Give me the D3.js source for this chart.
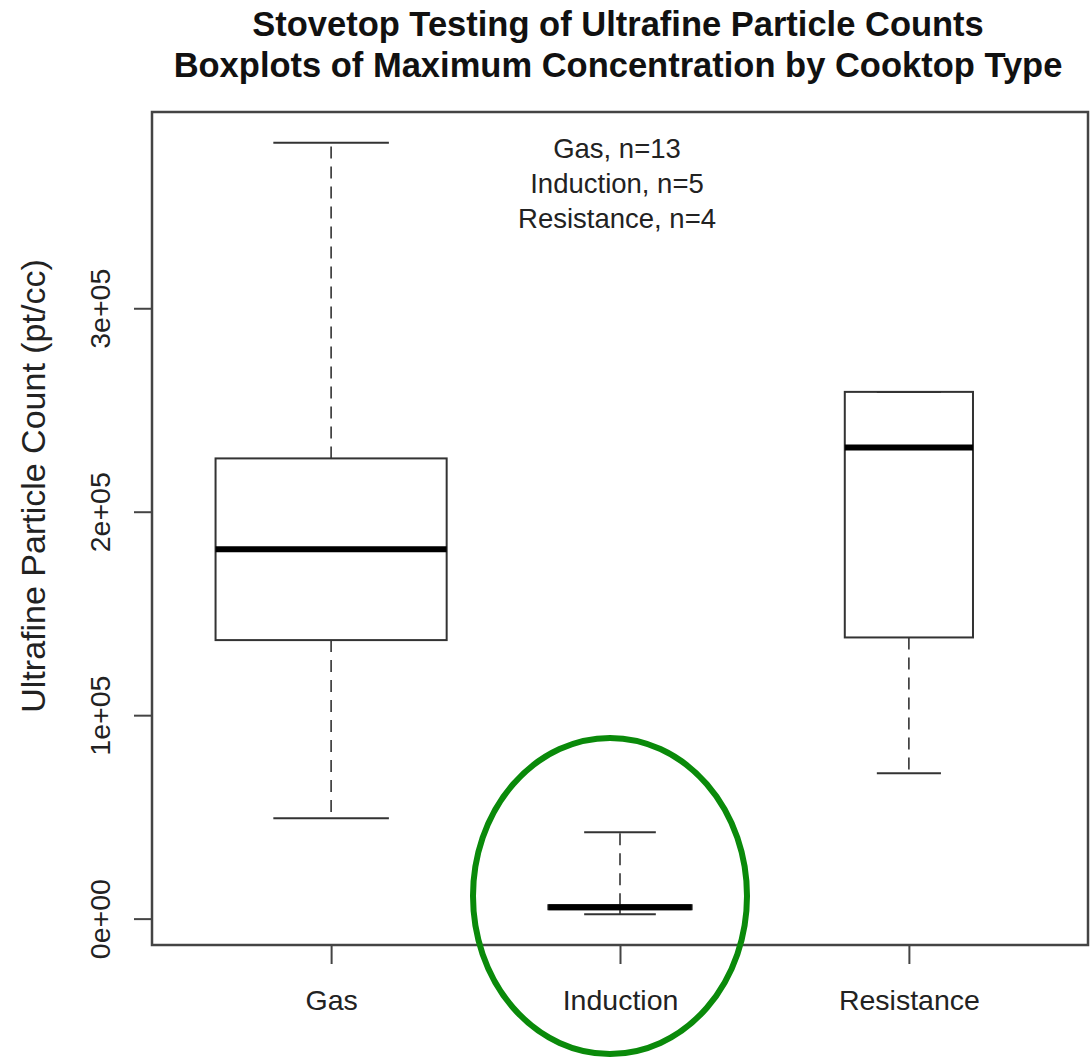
<!DOCTYPE html>
<html>
<head>
<meta charset="utf-8">
<script src="https://cdn.jsdelivr.net/npm/d3@7"></script>
<style>
  html, body { margin: 0; padding: 0; background: #fff; }
  svg { display: block; font-family: "Liberation Sans", Arial, Helvetica, sans-serif; }
</style>
</head>
<body>
<svg id="chart" width="1090" height="1057"></svg>
<script>
// ---- data ----
const categories = ["Gas", "Induction", "Resistance"];
const counts = [13, 5, 4];
const whiskerLow = [49300, 2200, 71400];
const q1 = [136900, 4600, 138200];
const medians = [181500, 5550, 231600];
const q3 = [226200, 6600, 258900];
const whiskerHigh = [381300, 42400, 258900];
const yTicks = [0, 100000, 200000, 300000];
const yTickLabels = ["0e+00", "1e+05", "2e+05", "3e+05"];
const titleLines = ["Stovetop Testing of Ultrafine Particle Counts",
                    "Boxplots of Maximum Concentration by Cooktop Type"];
const legendLines = ["Gas, n=13", "Induction, n=5", "Resistance, n=4"];
const yAxisTitle = "Ultrafine Particle Count (pt/cc)";

// ---- layout ----
const plotL = 152, plotR = 1088, plotT = 112, plotB = 945;
const svg = d3.select("#chart");

const x = d3.scalePoint().domain(categories).range([plotL, plotR]).padding(0.62);
const dataMin = d3.min(whiskerLow), dataMax = d3.max(whiskerHigh);
const pad = (dataMax - dataMin) * 0.04;
const y = d3.scaleLinear().domain([dataMin - pad, dataMax + pad]).range([plotB, plotT]);

const maxN = d3.max(counts);
const fullWidth = x.step() * 0.8;
const boxes = categories.map((c, i) => ({
  cat: c,
  w: fullWidth * Math.sqrt(counts[i] / maxN),
  lo: whiskerLow[i], q1: q1[i], med: medians[i], q3: q3[i], hi: whiskerHigh[i]
}));

const lineColor = "#333";

const g = svg.append("g");
boxes.forEach(b => {
  const cx = x(b.cat);
  g.append("line").attr("x1", cx).attr("x2", cx).attr("y1", y(b.q3)).attr("y2", y(b.hi))
    .attr("stroke", lineColor).attr("stroke-width", 1.6).attr("stroke-dasharray", "12,8");
  g.append("line").attr("x1", cx).attr("x2", cx).attr("y1", y(b.q1)).attr("y2", y(b.lo))
    .attr("stroke", lineColor).attr("stroke-width", 1.6).attr("stroke-dasharray", "12,8");
  [b.lo, b.hi].forEach(v => {
    g.append("line").attr("x1", cx - b.w / 4).attr("x2", cx + b.w / 4)
      .attr("y1", y(v)).attr("y2", y(v))
      .attr("stroke", lineColor).attr("stroke-width", 2);
  });
  g.append("rect").attr("x", cx - b.w / 2).attr("width", b.w)
    .attr("y", y(b.q3)).attr("height", Math.max(0.5, y(b.q1) - y(b.q3)))
    .attr("fill", "none").attr("stroke", lineColor).attr("stroke-width", 2);
  g.append("line").attr("x1", cx - b.w / 2).attr("x2", cx + b.w / 2)
    .attr("y1", y(b.med)).attr("y2", y(b.med))
    .attr("stroke", "#000").attr("stroke-width", 6);
});

// plot frame
svg.append("rect").attr("x", plotL).attr("y", plotT).attr("width", plotR - plotL).attr("height", plotB - plotT)
  .attr("fill", "none").attr("stroke", "#444").attr("stroke-width", 2.5);

// y axis
const yAxis = d3.axisLeft(y).tickValues(yTicks).tickSize(18).tickFormat((d, i) => yTickLabels[i]);
const yg = svg.append("g").attr("transform", `translate(${plotL},0)`).call(yAxis);
yg.select(".domain").remove();
yg.selectAll(".tick line").attr("stroke", "#444").attr("stroke-width", 2);
yg.selectAll(".tick text")
  .attr("font-size", 28.5).attr("fill", "#222")
  .attr("x", null).attr("dy", null)
  .attr("text-anchor", "middle")
  .attr("transform", `translate(-42,0) rotate(-90)`);

// x axis
const xAxis = d3.axisBottom(x).tickSize(19);
const xg = svg.append("g").attr("transform", `translate(0,${plotB})`).call(xAxis);
xg.select(".domain").remove();
xg.selectAll(".tick line").attr("stroke", "#444").attr("stroke-width", 2);
xg.selectAll(".tick text").attr("font-size", 28.5).attr("fill", "#222")
  .attr("y", 65).attr("dy", null);

// y axis title
svg.append("text").attr("transform", "translate(45,486) rotate(-90)")
  .attr("text-anchor", "middle").attr("font-size", 34).attr("fill", "#222")
  .text(yAxisTitle);

// title
svg.selectAll("text.title").data(titleLines).join("text").attr("class", "title")
  .attr("x", (plotL + plotR) / 2 - 2).attr("y", (d, i) => 36 + i * 41)
  .attr("text-anchor", "middle").attr("font-size", 34.5).attr("font-weight", "bold").attr("fill", "#111")
  .text(d => d);

// legend text
svg.selectAll("text.leg").data(legendLines).join("text").attr("class", "leg")
  .attr("x", x("Induction") - 3).attr("y", (d, i) => 158 + i * 35)
  .attr("text-anchor", "middle").attr("font-size", 27.5).attr("fill", "#222")
  .text(d => d);

// green highlight ellipse around Induction
svg.append("ellipse").attr("cx", x("Induction") - 10).attr("cy", 896)
  .attr("rx", 137).attr("ry", 158)
  .attr("fill", "none").attr("stroke", "#0a8a0a").attr("stroke-width", 6);
</script>
</body>
</html>
